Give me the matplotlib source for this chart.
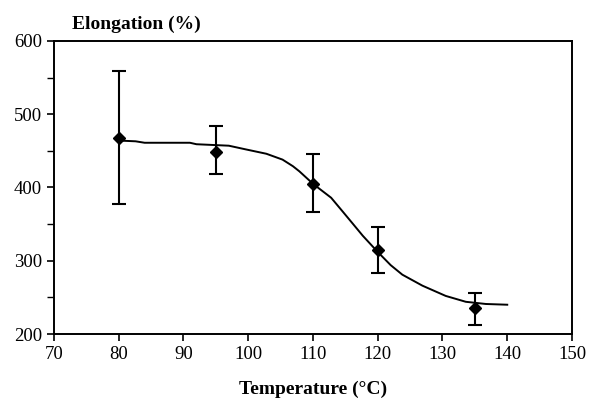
import numpy as np
from matplotlib import pyplot as plt

# measured points with error bars
temps = [80, 95, 110, 120, 135]
elong = [468, 449, 405, 315, 235]
err_low = [378, 418, 367, 283, 213]
err_high = [559, 484, 445, 346, 256]

# fitted trend curve
curve_t = [80, 82.6, 84, 91, 92, 97, 99.6, 102.8, 105.3, 106.9, 107.9, 110,
           112.8, 114.6, 116.2, 117.7, 120, 122, 123.8, 126.9, 130.5, 133.6,
           136.7, 140]
curve_e = [464, 463, 461, 461, 459, 457, 452, 446, 438, 429, 422, 405,
           386, 367, 350, 334, 312, 294, 281, 266, 252, 244,
           241, 240]

plt.rcParams['font.family'] = ['Liberation Serif', 'DejaVu Serif']

fig = plt.figure(figsize=(5.92, 4.01), dpi=100)
ax = fig.add_axes([0.0912, 0.167, 0.875, 0.731])

yerr = [np.array(elong) - np.array(err_low), np.array(err_high) - np.array(elong)]
ax.errorbar(temps, elong, yerr=yerr, fmt='D', color='black', ms=6,
            capsize=4.8, elinewidth=1.5, capthick=1.5, zorder=3)
ax.plot(curve_t, curve_e, color='black', lw=1.4)

ax.set_xlim(70, 150)
ax.set_ylim(200, 600)
ax.set_xticks(range(70, 151, 10))
ax.set_yticks(range(200, 601, 100))
ax.set_yticks(range(250, 600, 100), minor=True)
ax.tick_params(axis='both', which='major', direction='out', length=5, width=1.2,
               labelsize=13.5, colors='black')
ax.tick_params(axis='y', which='minor', direction='out', length=5, width=1)
for s in ax.spines.values():
    s.set_linewidth(1.4)

fig.text(313 / 592, 1 - 394 / 401, 'Temperature (\u00b0C)', fontsize=14,
         fontweight='bold', va='baseline', ha='center')
fig.text(72 / 592, 1 - 29 / 401, 'Elongation (%)', fontsize=14,
         fontweight='bold', va='baseline', ha='left')

fig.savefig('out.png', dpi=100)
